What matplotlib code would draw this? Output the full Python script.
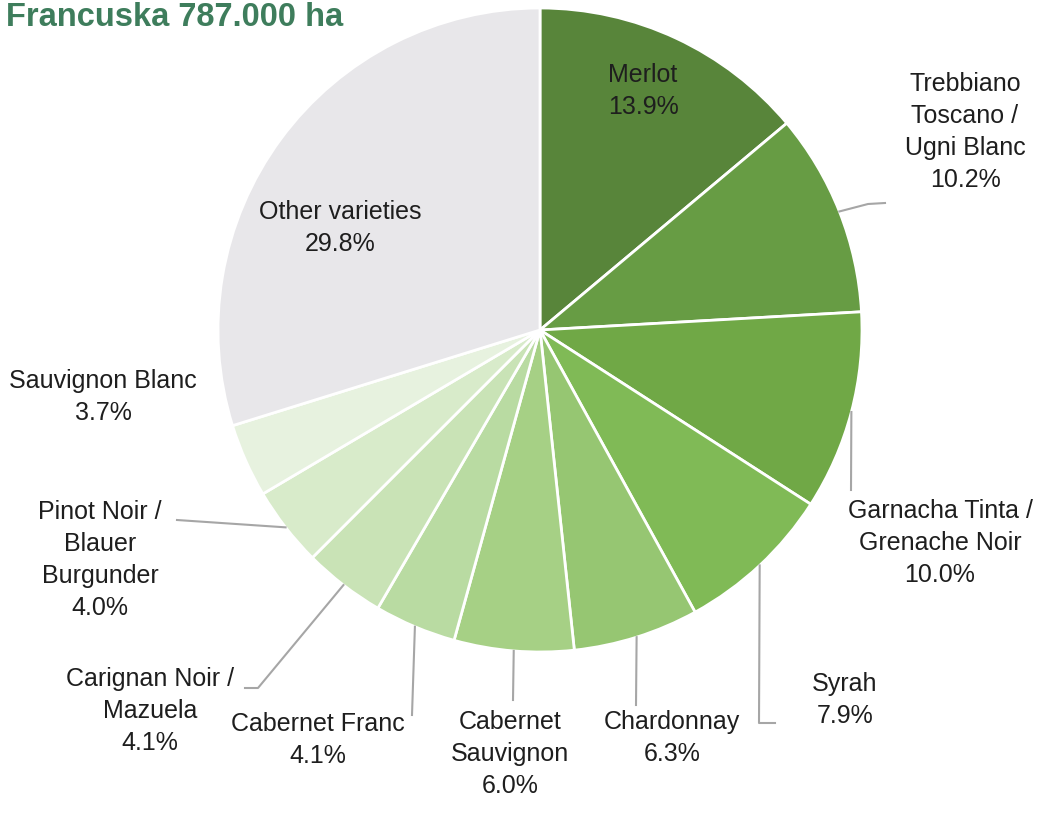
import matplotlib
matplotlib.use("Agg")
import matplotlib.pyplot as plt
import numpy as np

# udjeli sorti (Francuska)
sorte = ["Merlot", "Trebbiano\nToscano /\nUgni Blanc", "Garnacha Tinta /\nGrenache Noir",
         "Syrah", "Chardonnay", "Cabernet\nSauvignon", "Cabernet Franc",
         "Carignan Noir /\nMazuela", "Pinot Noir /\nBlauer\nBurgunder",
         "Sauvignon Blanc", "Other varieties"]
udjeli = [13.9, 10.2, 10.0, 7.9, 6.3, 6.0, 4.1, 4.1, 4.0, 3.7, 29.8]
boje = ["#58853a", "#679c44", "#70a846", "#80ba56", "#96c672", "#a6d085",
        "#b9dba2", "#c9e3b6", "#d8ebca", "#e7f2df", "#e8e7ea"]

plt.rcParams['font.family'] = ['Liberation Sans', 'DejaVu Sans']

fig = plt.figure(figsize=(10.38, 8.34), dpi=100)
ax = fig.add_axes([0, 0, 1, 1])

cx, cy, r = 540, 330, 322
wedges, _ = ax.pie(udjeli, colors=boje, startangle=-90, counterclock=True,
                   center=(cx, cy), radius=r,
                   wedgeprops=dict(edgecolor="white", linewidth=2))

ax.set_xlim(0, 1038)
ax.set_ylim(834, 0)
ax.set_aspect("equal")
ax.axis("off")

# pozicije tekstova (x, y) i lomovi linija
pozicije = [(643, 91), (965, 132), (940, 543), (845, 700), (672, 738),
            (510, 754), (318, 740), (150, 711), (100, 560), (103, 397), (340, 228)]
linije = [None,
          [(868, 204), (885, 203)],
          [(851, 490)],
          [(759, 723), (775, 723)],
          [(636, 705)],
          [(513, 700)],
          [(412, 715)],
          [(258, 688), (245, 688)],
          [(177, 520)],
          None, None]

for w, ime, u, pos, lin in zip(wedges, sorte, udjeli, pozicije, linije):
    ax.text(pos[0], pos[1], f"{ime}\n{u:.1f}%", ha="center", va="center",
            fontsize=18, color="#1e1e1e", linespacing=1.42)
    if lin is not None:
        th = np.deg2rad((w.theta1 + w.theta2) / 2)
        xs = [cx + r * np.cos(th)] + [p[0] for p in lin]
        ys = [cy + r * np.sin(th)] + [p[1] for p in lin]
        ax.plot(xs, ys, color="#a6a6a6", linewidth=1.5)

ax.text(6, 17, "Francuska 787.000 ha", ha="left", va="center",
        fontsize=23.5, fontweight="bold", color="#3e7d5c")

fig.savefig("out.png", dpi=100)
